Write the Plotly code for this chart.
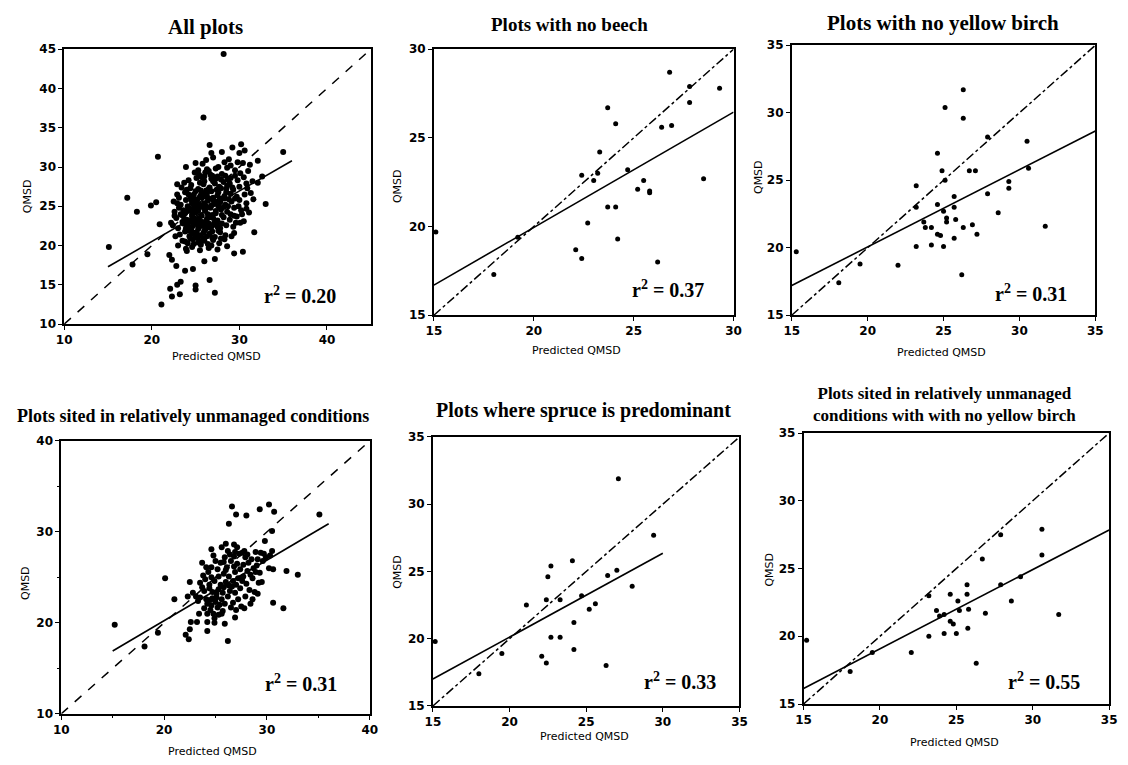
import plotly.graph_objects as go

W, H = 1128, 765

titles = [
    "All plots",
    "Plots with no beech",
    "Plots with no yellow birch",
    "Plots sited in relatively unmanaged conditions",
    "Plots where spruce is predominant",
    "Plots sited in relatively unmanaged<br>conditions with with no yellow birch",
]
r2_labels = ["0.20", "0.37", "0.31", "0.31", "0.33", "0.55"]
x_label = "Predicted QMSD"
y_label = "QMSD"

# ---- Panel 1: All plots ----
p1_pts = [
    (28.2, 44.4), (25.9, 36.3), (20.7, 31.3), (17.2, 26.1), (18.3, 24.3), (19.9, 25.1),
    (20.5, 25.5), (15.1, 19.8), (17.8, 17.6), (19.5, 18.9), (20.9, 22.7), (35.0, 31.9),
    (33.0, 25.3), (31.7, 21.7), (30.4, 19.2), (29.4, 19.0), (27.2, 18.3), (26.0, 18.0),
    (26.6, 15.6), (27.2, 14.0), (25.0, 14.9), (25.0, 14.4), (24.7, 17.0), (23.8, 16.8),
    (23.3, 15.4), (22.9, 15.0), (22.1, 14.5), (22.3, 13.5), (23.2, 13.8), (21.1, 12.5),
    (22.8, 17.4), (22.0, 18.8), (22.3, 18.2), (24.0, 19.3), (23.8, 20.5), (30.2, 32.9),
    (29.2, 32.5), (26.6, 32.8), (26.8, 31.8), (28.0, 31.9), (30.0, 31.8), (30.6, 32.1),
    (32.1, 30.8), (32.1, 28.0), (32.6, 28.8), (30.8, 27.9), (30.8, 24.7), (29.4, 23.8),
    (29.1, 21.2), (29.4, 21.6), (23.9, 30.0), (25.0, 30.5), (22.9, 27.8), (22.9, 25.4),
    (22.2, 22.9), (22.7, 21.2), (25.7, 28.7), (26.3, 29.7),
    (26.2, 30.9), (27.0, 31.2), (28.3, 30.6), (29.0, 30.2), (27.6, 30.0), (25.8, 30.4),
    (28.8, 31.0), (30.4, 30.5), (31.2, 30.3),
    (24.9, 29.3), (26.5, 29.5), (27.3, 29.8), (28.0, 29.1), (29.5, 29.6), (30.1, 29.2),
    (26.9, 28.9), (28.6, 29.9), (31.0, 29.5), (25.4, 29.0),
    (24.2, 28.3), (25.1, 28.6), (26.0, 28.2), (26.8, 28.5), (27.5, 28.8), (28.2, 28.1),
    (29.0, 28.6), (29.8, 28.3), (30.5, 28.7), (27.9, 28.4), (23.7, 28.0), (31.5, 28.2),
    (23.4, 27.4), (24.5, 27.7), (25.3, 27.2), (25.9, 27.8), (26.6, 27.4), (27.2, 27.9),
    (27.9, 27.3), (28.6, 27.6), (29.3, 27.1), (30.0, 27.5), (30.9, 27.3), (24.0, 27.1),
    (26.2, 27.0), (28.9, 27.9),
    (22.9, 26.5), (23.8, 26.8), (24.4, 26.2), (25.0, 26.9), (25.6, 26.4), (26.3, 26.7),
    (27.0, 26.1), (27.6, 26.8), (28.3, 26.3), (29.0, 26.6), (29.7, 26.2), (30.6, 26.5),
    (31.3, 26.7), (24.7, 26.0), (26.8, 26.9), (28.0, 26.0),
    (22.5, 25.6), (23.3, 25.2), (23.9, 25.8), (24.6, 25.4), (25.2, 25.9), (25.8, 25.1),
    (26.4, 25.7), (27.1, 25.3), (27.7, 25.8), (28.4, 25.2), (29.1, 25.6), (29.9, 25.0),
    (30.8, 25.4), (31.6, 25.9), (24.1, 25.0), (26.0, 25.4), (28.8, 25.9),
    (22.6, 24.3), (23.1, 24.8), (23.8, 24.1), (24.4, 24.7), (25.0, 24.2), (25.5, 24.9),
    (26.1, 24.4), (26.7, 24.8), (27.3, 24.1), (27.9, 24.6), (28.6, 24.3), (29.4, 24.8),
    (30.2, 24.5), (31.1, 24.2), (24.8, 24.5), (26.4, 24.0), (29.0, 24.0),
    (22.8, 23.5), (23.4, 23.9), (24.0, 23.3), (24.6, 23.7), (25.1, 23.1), (25.7, 23.8),
    (26.3, 23.4), (26.9, 23.9), (27.5, 23.2), (28.2, 23.6), (28.9, 23.3), (29.7, 23.7),
    (30.5, 23.1), (25.4, 23.5), (27.2, 23.0),
    (22.4, 22.6), (23.0, 22.2), (23.6, 22.8), (24.2, 22.4), (24.8, 22.9), (25.3, 22.1),
    (25.9, 22.7), (26.5, 22.3), (27.1, 22.8), (27.8, 22.2), (28.5, 22.6), (29.3, 22.4),
    (30.1, 22.9), (24.5, 22.0), (26.1, 22.5),
    (23.2, 21.4), (23.8, 21.8), (24.3, 21.2), (24.9, 21.6), (25.5, 21.3), (26.0, 21.9),
    (26.6, 21.5), (27.2, 21.1), (27.8, 21.7), (28.4, 21.3), (25.2, 21.0), (26.9, 21.8),
    (24.6, 21.5),
    (23.5, 20.6), (24.1, 20.3), (24.7, 20.8), (25.3, 20.4), (25.9, 20.9), (26.4, 20.2),
    (27.0, 20.7), (27.7, 20.3), (28.3, 20.8), (23.0, 20.0), (25.6, 20.1),
    (23.9, 19.6), (24.6, 19.8), (25.5, 19.4), (26.5, 19.7), (27.5, 19.5), (28.6, 19.9),
    (24.3, 23.0), (24.9, 23.4), (25.6, 22.5), (26.2, 23.0), (26.8, 22.4), (27.4, 22.6),
    (25.0, 25.6), (25.7, 26.1), (26.3, 26.2), (27.0, 25.8), (27.6, 25.0), (28.2, 24.9),
    (25.3, 24.4), (26.0, 24.7), (26.6, 23.6), (27.3, 24.4), (25.8, 23.0), (24.7, 22.5),
    (25.1, 21.7), (26.3, 21.2), (24.0, 24.4), (24.6, 24.0), (25.4, 25.3), (26.8, 25.1),
    (27.8, 25.5), (28.5, 26.8), (27.4, 27.1), (26.5, 27.2), (25.6, 27.0), (24.9, 25.1),
    (23.6, 24.5), (23.5, 23.0), (24.2, 21.9), (25.9, 21.6), (27.6, 21.9), (28.0, 23.9),
    (28.7, 25.0), (29.5, 26.0), (30.0, 25.8), (29.2, 27.4), (25.2, 22.7), (26.1, 22.0),
    (24.4, 20.9), (25.7, 20.6), (26.9, 21.0), (24.2, 26.5), (25.5, 28.0), (27.0, 28.2),
    (28.4, 28.9), (26.7, 29.0),
    (24.5, 23.2), (25.5, 23.0), (26.5, 22.8), (27.5, 22.4), (24.0, 22.7), (25.0, 21.3),
    (26.0, 20.6), (27.0, 23.5), (28.0, 22.8), (24.3, 24.5), (25.2, 24.7), (26.2, 25.0),
    (27.2, 25.6), (28.3, 26.0), (23.7, 23.4), (24.5, 25.8), (25.5, 26.2), (26.5, 26.0),
    (27.5, 26.4), (28.5, 27.2), (26.0, 28.8), (27.3, 28.5), (28.7, 28.4), (29.5, 28.9),
    (24.8, 26.5), (23.3, 24.0), (23.9, 22.2), (24.8, 20.2), (26.8, 20.0), (27.9, 20.9),
    (29.6, 22.9), (30.3, 24.0), (25.9, 26.6), (27.7, 27.5), (26.1, 29.3), (29.8, 30.6),
    (25.3, 29.6), (24.4, 27.3), (23.1, 26.1), (22.6, 23.8),
]

# ---- Panel 2: no beech ----
p2_pts = [
    (15.1, 19.7), (18.0, 17.3), (19.2, 19.4), (22.1, 18.7), (22.4, 18.2), (22.7, 20.2),
    (22.4, 22.9), (23.0, 22.6), (23.2, 23.0), (23.3, 24.2), (23.7, 26.7), (23.7, 21.1),
    (24.1, 21.1), (24.1, 25.8), (24.2, 19.3), (24.7, 23.2), (25.2, 22.1), (25.5, 22.6),
    (25.8, 22.0), (25.8, 21.9), (26.2, 18.0), (26.4, 25.6), (26.9, 25.7), (26.8, 28.7),
    (27.8, 27.9), (27.8, 27.0), (28.5, 22.7), (29.3, 27.8),
]

# ---- Panel 3: no yellow birch ----
p3_pts = [
    (15.3, 19.7), (18.1, 17.4), (19.5, 18.8), (22.0, 18.7), (23.2, 24.6), (23.2, 23.0),
    (23.2, 20.1), (23.7, 21.9), (23.8, 21.5), (24.2, 21.5), (24.2, 20.2), (24.6, 27.0),
    (24.6, 23.2), (24.6, 21.0), (24.8, 20.9), (24.9, 25.7), (25.1, 25.0), (25.0, 20.1),
    (25.1, 30.4), (25.0, 22.7), (25.2, 22.2), (25.2, 21.9), (25.7, 23.8), (25.7, 23.0),
    (25.8, 22.1), (25.7, 20.7), (26.3, 31.7), (26.3, 29.6), (26.3, 21.5), (26.2, 18.0),
    (26.7, 25.7), (27.1, 25.7), (26.9, 21.7), (27.2, 21.0), (27.9, 28.2), (27.9, 24.0),
    (28.6, 22.6), (29.3, 24.4), (29.3, 24.9), (30.5, 27.9), (30.6, 25.9), (31.7, 21.6),
]

# ---- Panel 4: relatively unmanaged ----
p4_pts = [
    (15.2, 19.8), (18.1, 17.4), (19.4, 18.9), (20.1, 24.9), (21.0, 22.6), (22.1, 18.7),
    (22.4, 18.2), (22.5, 19.3), (22.6, 20.1), (23.2, 20.1), (24.2, 19.1), (24.2, 20.1),
    (24.9, 20.0), (25.9, 19.9), (26.2, 18.0), (26.9, 20.6), (26.6, 32.8), (27.0, 31.9),
    (28.0, 31.8), (26.3, 30.9), (29.3, 32.5), (30.2, 33.0), (30.7, 32.2), (35.1, 31.9),
    (30.5, 30.1), (29.8, 29.0), (31.9, 25.7), (33.0, 25.3), (30.6, 25.9), (30.6, 22.2),
    (31.6, 21.6), (30.5, 27.9), (29.4, 27.7), (29.2, 24.4), (28.6, 22.6), (23.7, 26.6),
    (22.5, 24.5), (22.3, 22.9), (24.6, 28.1), (26.0, 28.7), (26.8, 28.6), (23.4, 21.0),
    (22.8, 23.3),
    (23.5, 22.8), (23.9, 23.5), (24.2, 22.1), (24.5, 21.4), (24.8, 21.0), (25.0, 22.3),
    (25.2, 21.7), (24.7, 22.7), (24.4, 23.8), (24.0, 24.8), (24.3, 25.6), (23.8, 25.2),
    (25.4, 22.0), (25.6, 22.6), (25.1, 23.2), (25.8, 23.9), (26.0, 24.5), (26.3, 25.1),
    (26.6, 24.0), (26.9, 23.3), (27.2, 22.6), (27.5, 21.8), (27.0, 21.4), (26.7, 22.2),
    (26.2, 22.9), (25.7, 21.3), (25.3, 20.9), (24.9, 20.5), (26.1, 26.1), (26.5, 26.8),
    (26.8, 27.3), (27.1, 26.5), (27.4, 25.9), (27.7, 25.1), (28.0, 24.3), (28.3, 23.6),
    (28.6, 24.9), (28.9, 25.6), (28.2, 26.6), (27.9, 27.2), (27.6, 27.7), (27.3, 27.6),
    (27.8, 27.9), (28.1, 27.5), (28.5, 27.0), (29.0, 26.3), (29.3, 25.5), (29.6, 26.8),
    (29.9, 27.2), (30.2, 26.0), (29.5, 24.5), (28.8, 23.4), (27.9, 22.9), (27.4, 23.8),
    (26.4, 27.5), (25.9, 27.2), (25.5, 26.6), (25.2, 25.9), (24.9, 24.6), (24.6, 25.0),
    (25.5, 24.2), (26.4, 23.5), (27.6, 24.6), (26.9, 25.6), (25.8, 25.4), (25.0, 26.8),
    (24.1, 26.1), (23.7, 23.9), (23.3, 22.4), (23.1, 22.9), (24.6, 21.9), (25.9, 22.1),
    (26.5, 21.7), (27.8, 21.6), (28.4, 22.1), (29.1, 23.2), (28.7, 26.0), (27.1, 28.3),
    (26.2, 27.9), (25.6, 28.3), (24.8, 27.4), (29.7, 27.6), (30.3, 27.4), (24.4, 24.2),
    (25.3, 23.7), (26.7, 24.6), (27.2, 24.9), (28.1, 25.7), (23.9, 21.6), (24.2, 21.0),
    (24.5, 22.5), (25.1, 22.8), (25.7, 23.3), (26.3, 24.1), (27.0, 24.2), (27.5, 24.9),
    (26.0, 25.8), (25.3, 25.1), (24.7, 23.4), (24.1, 22.6), (26.8, 26.2), (27.7, 26.4),
    (28.4, 25.3), (29.1, 27.0), (28.9, 27.8), (26.9, 27.8), (25.8, 26.7), (24.6, 26.1),
    (23.5, 24.4), (25.6, 21.0),
]

# ---- Panel 5: spruce predominant ----
p5_pts = [
    (15.15, 19.8), (18.0, 17.4), (19.5, 18.9), (21.1, 22.5), (22.1, 18.7), (22.4, 18.2),
    (22.4, 22.9), (22.5, 24.6), (22.7, 25.4), (22.7, 20.1), (23.3, 22.9), (23.3, 20.1),
    (24.1, 25.8), (24.2, 21.2), (24.2, 19.2), (24.7, 23.2), (25.2, 22.2), (25.6, 22.6),
    (26.4, 24.7), (26.3, 18.0), (27.0, 25.1), (27.1, 31.9), (28.0, 23.9), (29.4, 27.7),
]

# ---- Panel 6: unmanaged, no yellow birch ----
p6_pts = [
    (15.2, 19.7), (18.05, 17.4), (19.5, 18.8), (22.05, 18.8), (23.2, 23.0), (23.2, 20.0),
    (23.7, 21.9), (23.9, 21.5), (24.2, 21.6), (24.2, 20.2), (24.6, 23.1), (24.6, 21.1),
    (24.8, 20.9), (25.0, 20.2), (25.1, 22.6), (25.2, 21.9), (25.7, 23.8), (25.7, 23.1),
    (25.8, 22.0), (25.75, 20.6), (26.3, 18.0), (26.7, 25.7), (26.9, 21.7), (27.9, 27.5),
    (27.9, 23.8), (28.6, 22.6), (29.2, 24.4), (30.6, 27.9), (30.6, 26.0), (31.7, 21.6),
]

panels_pts = [p1_pts, p2_pts, p3_pts, p4_pts, p5_pts, p6_pts]

# fitted regression lines (endpoints)
reg_x = [[15, 36], [15, 30], [15, 35], [15, 36], [15, 30], [15, 35]]
reg_y = [[17.3, 30.8], [16.7, 26.45], [17.2, 28.65], [16.9, 30.9], [17.0, 26.35], [16.15, 27.85]]

# axis ranges (same for x and y) and tick steps
ranges = [[10, 45], [15, 30], [15, 35], [10, 40], [15, 35], [15, 35]]
x_dtick = [10, 5, 5, 10, 5, 5]
y_dtick = [5, 5, 5, 10, 5, 5]
one_to_one_dash = ["dash", "dashdot", "dashdot", "dash", "dashdot", "dashdot"]
marker_size = [6, 5, 5, 6, 5, 5]

# pixel boxes of each plot area: (left, right, top, bottom)
boxes = [
    (57, 368, 43, 323),
    (432, 736, 43, 314),
    (795, 1103, 39, 314),
    (54, 367, 442, 720),
    (431, 742, 438, 712),
    (807, 1117, 434, 710),
]
# title centres (x, y) in pixels and sizes
title_pos = [(200, 20), (570, 18), (948, 16), (188, 417), (584, 411), (950, 405)]
title_size = [21, 19, 21, 18, 20, 17]
# r^2 label centres in pixels
r2_pos = [(296, 293), (670, 287), (1038, 291), (297, 689), (682, 687), (1051, 687)]
# axis-title centres in pixels
xlab_pos = [(211, 356), (577, 350), (947, 352), (207, 758), (585, 743), (960, 749)]
ylab_pos = [(20, 193), (395, 182), (762, 173), (17, 587), (395, 575), (772, 573)]

fig = go.Figure()
layout = dict(
    width=W, height=H, margin=dict(l=0, r=0, t=0, b=0),
    paper_bgcolor="white", plot_bgcolor="white", showlegend=False,
)
annotations = []
lab_font = dict(family="DejaVu Sans", size=11, color="black")

for i in range(6):
    k = "" if i == 0 else str(i + 1)
    xa, ya = "x" + k, "y" + k
    l, r, t, b = boxes[i]
    lo, hi = ranges[i]
    pts = panels_pts[i]
    fig.add_trace(go.Scatter(
        x=[p[0] for p in pts], y=[p[1] for p in pts], mode="markers",
        marker=dict(color="black", size=marker_size[i], symbol="circle"),
        xaxis=xa, yaxis=ya, cliponaxis=False,
    ))
    fig.add_trace(go.Scatter(
        x=[lo, hi], y=[lo, hi], mode="lines",
        line=dict(color="black", width=1.5, dash=one_to_one_dash[i]),
        xaxis=xa, yaxis=ya,
    ))
    fig.add_trace(go.Scatter(
        x=reg_x[i], y=reg_y[i], mode="lines",
        line=dict(color="black", width=1.6),
        xaxis=xa, yaxis=ya,
    ))
    common = dict(
        range=[lo, hi], showgrid=False, zeroline=False,
        showline=True, linecolor="black", linewidth=1.6, mirror=True,
        ticks="outside", ticklen=4, tickwidth=1.2, tickcolor="black",
        tickfont=dict(family="DejaVu Sans", size=12, color="black", weight="bold"),
    )
    minor = dict(ticks="outside", ticklen=2, tickcolor="black", dtick=5) if i == 3 else None
    xdict = dict(common, domain=[l / W, r / W], anchor=ya, dtick=x_dtick[i], tick0=lo)
    ydict = dict(common, domain=[1 - b / H, 1 - t / H], anchor=xa, dtick=y_dtick[i], tick0=lo)
    if minor:
        xdict["minor"] = minor
        ydict["minor"] = minor
    layout["xaxis" + k] = xdict
    layout["yaxis" + k] = ydict

    tx, ty = title_pos[i]
    annotations.append(dict(
        text=titles[i], x=tx / W, y=1 - ty / H, xref="paper", yref="paper",
        xanchor="center", yanchor="middle", showarrow=False,
        font=dict(family="Liberation Serif", size=title_size[i], color="black", weight="bold"),
    ))
    rx, ry = r2_pos[i]
    annotations.append(dict(
        text="r<sup>2</sup> = " + r2_labels[i], x=rx / W, y=1 - ry / H,
        xref="paper", yref="paper", xanchor="center", yanchor="middle", showarrow=False,
        font=dict(family="Liberation Serif", size=20, color="black", weight="bold"),
    ))
    lx, ly = xlab_pos[i]
    annotations.append(dict(
        text=x_label, x=lx / W, y=1 - ly / H, xref="paper", yref="paper",
        xanchor="center", yanchor="middle", showarrow=False, font=lab_font,
    ))
    qx, qy = ylab_pos[i]
    annotations.append(dict(
        text=y_label, x=qx / W, y=1 - qy / H, xref="paper", yref="paper",
        xanchor="center", yanchor="middle", showarrow=False, textangle=-90, font=lab_font,
    ))

layout["annotations"] = annotations
fig.update_layout(**layout)
fig.write_html("out.html")
